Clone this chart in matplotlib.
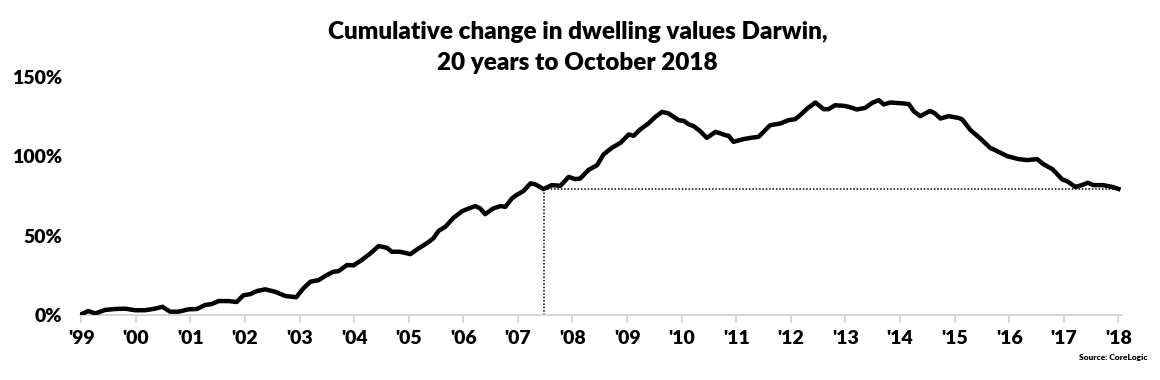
import matplotlib
matplotlib.use("Agg")
import matplotlib.pyplot as plt

# cumulative change (%), x in decimal years
years = [
    1999.01, 1999.13, 1999.26, 1999.44, 1999.62, 1999.81, 1999.99, 2000.17,
    2000.35, 2000.49, 2000.63, 2000.78, 2000.97, 2001.12, 2001.27, 2001.39,
    2001.52, 2001.70, 2001.85, 2001.97, 2002.10, 2002.22, 2002.37, 2002.55,
    2002.74, 2002.94, 2003.07, 2003.20, 2003.35, 2003.47, 2003.62, 2003.71,
    2003.87, 2003.99, 2004.14, 2004.30, 2004.45, 2004.60, 2004.69, 2004.84,
    2005.03, 2005.18, 2005.33, 2005.45, 2005.55, 2005.67, 2005.82, 2005.98,
    2006.10, 2006.22, 2006.31, 2006.40, 2006.55, 2006.68, 2006.77, 2006.89,
    2006.97, 2007.10, 2007.23, 2007.32, 2007.47, 2007.62, 2007.78, 2007.93,
    2008.05, 2008.14, 2008.29, 2008.45, 2008.57, 2008.72, 2008.88, 2009.03,
    2009.12, 2009.24, 2009.39, 2009.52, 2009.64, 2009.76, 2009.94, 2010.04,
    2010.13, 2010.22, 2010.34, 2010.46, 2010.62, 2010.71, 2010.80, 2010.86,
    2010.95, 2011.13, 2011.26, 2011.41, 2011.50, 2011.62, 2011.81, 2011.96,
    2012.08, 2012.17, 2012.30, 2012.45, 2012.60, 2012.69, 2012.81, 2012.97,
    2013.06, 2013.21, 2013.36, 2013.49, 2013.61, 2013.70, 2013.82, 2014.07,
    2014.16, 2014.25, 2014.37, 2014.55, 2014.64, 2014.74, 2014.89, 2015.07,
    2015.14, 2015.29, 2015.47, 2015.65, 2015.78, 2015.96, 2016.17, 2016.33,
    2016.51, 2016.63, 2016.79, 2016.97, 2017.06, 2017.21, 2017.33, 2017.44,
    2017.54, 2017.72, 2017.90, 2018.00,
]
change = [
    0.6, 2.5, 1.0, 3.2, 3.8, 4.0, 3.0, 3.0,
    4.0, 5.2, 2.1, 2.1, 3.6, 3.8, 6.3, 6.9,
    8.8, 8.8, 8.2, 12.4, 13.2, 15.1, 16.2, 14.7,
    12.0, 11.2, 16.8, 21.0, 22.0, 24.6, 27.3, 27.6,
    31.5, 31.3, 34.7, 38.9, 43.5, 42.4, 39.9, 39.9,
    38.4, 42.0, 45.2, 48.3, 53.1, 55.6, 61.3, 65.5,
    67.2, 68.7, 67.2, 63.6, 67.2, 68.7, 68.2, 73.5,
    75.6, 78.1, 83.0, 82.4, 79.4, 81.9, 81.5, 87.1,
    85.7, 86.0, 91.4, 94.5, 101.3, 105.4, 108.6, 113.9,
    113.0, 117.0, 120.8, 125.0, 128.1, 127.1, 122.9, 122.4,
    120.2, 119.1, 115.9, 111.7, 115.5, 114.5, 113.4, 113.0,
    109.2, 110.9, 111.7, 112.4, 115.5, 119.7, 120.8, 122.9,
    123.5, 126.0, 130.2, 134.0, 129.8, 129.8, 132.3, 131.9,
    131.3, 129.6, 130.6, 133.8, 135.5, 132.8, 134.0, 133.4,
    133.0, 128.5, 125.4, 128.7, 127.1, 123.9, 125.4, 124.3,
    123.3, 116.6, 111.3, 105.4, 103.3, 100.2, 98.3, 97.7,
    98.3, 95.0, 92.0, 85.5, 84.4, 80.8, 81.9, 83.4,
    81.9, 81.9, 80.7, 79.5,
]
tick_years = list(range(1999, 2019))
tick_labels = ["'%02d" % (y % 100) for y in tick_years]
y_ticks = [0, 50, 100, 150]
same_level_year = 2007.47  # last time values were at today's level

plt.rcParams["font.family"] = ["Lato", "DejaVu Sans"]
plt.rcParams["font.weight"] = "heavy"

fig = plt.figure(figsize=(11.6, 3.8), dpi=100)
ax = fig.add_axes([0.069, 0.171, 0.898, 0.626])

ax.plot(years, change, color="black", lw=3.2, solid_joinstyle="round", zorder=3)

current = change[-1]
ax.plot([same_level_year, same_level_year], [0, current], color="black",
        lw=1.1, ls=(0, (1, 1.2)), zorder=2)
ax.plot([same_level_year, years[-1]], [current, current], color="black",
        lw=1.1, ls=(0, (1, 1.2)), zorder=2)

ax.set_xlim(1998.98, 2018.06)
ax.set_ylim(0, 150)
ax.set_xticks(tick_years)
ax.set_xticklabels(tick_labels, fontsize=14, fontweight="heavy")
ax.set_yticks(y_ticks)
ax.set_yticklabels(["%d%%" % v for v in y_ticks], fontsize=14, fontweight="heavy")

for side in ["top", "right", "left"]:
    ax.spines[side].set_visible(False)
ax.spines["bottom"].set_color("#d0d0d0")
ax.spines["bottom"].set_linewidth(1.2)
ax.tick_params(axis="x", direction="out", length=6, width=1.2, color="#d0d0d0",
               pad=5, labelcolor="black")
ax.tick_params(axis="y", length=0, pad=13, labelcolor="black")

fig.text(0.498, 0.915, "Cumulative change in dwelling values Darwin,",
         ha="center", va="center", fontsize=17.5, fontweight="heavy")
fig.text(0.498, 0.835, "20 years to October 2018",
         ha="center", va="center", fontsize=17.5, fontweight="heavy")
fig.text(0.989, 0.058, "Source: CoreLogic", ha="right", va="center",
         fontsize=6, fontweight="heavy")

fig.savefig("out.png", dpi=100)
